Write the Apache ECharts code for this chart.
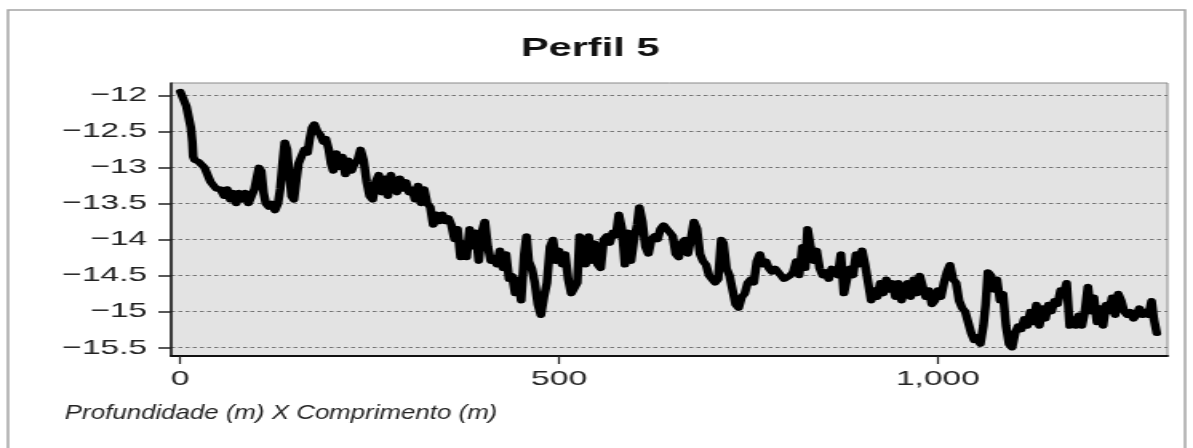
<!DOCTYPE html>
<html>
<head>
<meta charset="utf-8">
<title>Perfil 5</title>
<script src="https://cdn.jsdelivr.net/npm/echarts@6/dist/echarts.min.js"></script>
<style>
  html, body { margin: 0; padding: 0; background: #fff; overflow: hidden; }
  #wrap { width: 1193px; height: 448px; overflow: hidden; }
  /* the chart is laid out narrow and widened, giving its wide lettering */
  #chart { width: 746px; height: 448px; transform: scaleX(1.5992); transform-origin: 0 0; }
</style>
</head>
<body>
<div id="wrap"><div id="chart"></div></div>
<script>
// Distance along the profile (m)
const distance = [
  0, 4, 8, 11, 14, 16, 17, 19, 24, 28, 32, 36, 40, 44, 48, 53, 58, 62, 66, 70,
  74, 78, 82, 86, 90, 94, 98, 101, 104, 107, 110, 113, 117, 121, 125, 129, 132, 135, 138, 141,
  144, 147, 150, 153, 156, 160, 164, 168, 171, 174, 177, 181, 185, 189, 192, 196, 199, 202, 206, 210,
  214, 218, 222, 226, 230, 234, 238, 242, 246, 250, 254, 258, 262, 266, 270, 274, 278, 282, 286, 290,
  294, 298, 302, 306, 310, 314, 318, 322, 326, 330, 334, 338, 342, 346, 350, 354, 358, 362, 366, 370,
  374, 378, 382, 386, 390, 394, 398, 402, 406, 410, 414, 418, 422, 426, 430, 434, 438, 442, 446, 450,
  454, 457, 460, 464, 468, 472, 476, 480, 484, 488, 492, 496, 500, 504, 508, 512, 516, 520, 524, 527,
  531, 535, 539, 543, 547, 551, 555, 559, 563, 567, 571, 575, 579, 583, 587, 591, 595, 599, 603, 606,
  610, 614, 618, 622, 626, 630, 634, 638, 642, 646, 650, 654, 658, 662, 666, 670, 674, 678, 682, 686,
  690, 694, 698, 702, 706, 710, 714, 717, 721, 725, 729, 733, 737, 741, 745, 749, 753, 757, 761, 765,
  769, 773, 777, 781, 785, 789, 793, 797, 801, 805, 809, 813, 817, 821, 825, 828, 832, 836, 840, 844,
  848, 852, 856, 860, 864, 868, 872, 876, 880, 884, 888, 892, 896, 900, 904, 908, 912, 916, 920, 924,
  928, 932, 936, 940, 944, 948, 952, 956, 960, 964, 968, 972, 976, 980, 984, 988, 992, 996, 1000, 1004,
  1008, 1012, 1016, 1020, 1024, 1028, 1032, 1036, 1040, 1044, 1048, 1052, 1056, 1060, 1063, 1066, 1070, 1074, 1078, 1082,
  1086, 1090, 1094, 1098, 1102, 1106, 1110, 1114, 1118, 1122, 1126, 1130, 1134, 1138, 1142, 1146, 1150, 1154, 1158, 1162,
  1166, 1170, 1174, 1178, 1182, 1186, 1190, 1194, 1198, 1202, 1206, 1210, 1214, 1218, 1222, 1226, 1230, 1234, 1238, 1242,
  1246, 1250, 1254, 1258, 1262, 1266, 1270, 1274, 1278, 1282, 1285, 1289
];

// Depth (m) at each distance
const depth = [
  -11.95, -12.05, -12.15, -12.3, -12.45, -12.65, -12.85, -12.9, -12.92, -12.9, -13.0, -13.1, -13.2, -13.25, -13.3, -13.3, -13.4, -13.3, -13.45, -13.35,
  -13.5, -13.35, -13.45, -13.35, -13.5, -13.4, -13.3, -13.15, -13.0, -13.05, -13.35, -13.5, -13.55, -13.5, -13.6, -13.5, -13.3, -12.95, -12.65, -12.75,
  -13.1, -13.4, -13.45, -13.2, -12.95, -12.85, -12.75, -12.8, -12.6, -12.45, -12.4, -12.5, -12.55, -12.65, -12.6, -12.75, -12.95, -13.05, -12.8, -13.0,
  -12.85, -13.1, -12.9, -13.05, -12.95, -12.9, -12.75, -12.9, -13.2, -13.4, -13.45, -13.2, -13.1, -13.35, -13.15, -13.4, -13.1, -13.25, -13.35, -13.15,
  -13.3, -13.2, -13.35, -13.3, -13.45, -13.25, -13.5, -13.3, -13.5, -13.55, -13.8, -13.65, -13.75, -13.65, -13.75, -13.7, -13.8, -14.0, -13.85, -14.25,
  -14.05, -14.25, -13.85, -14.1, -13.9, -14.3, -13.9, -13.75, -14.1, -14.3, -14.25, -14.35, -14.15, -14.4, -14.2, -14.55, -14.5, -14.75, -14.55, -14.85,
  -14.2, -13.95, -14.3, -14.4, -14.6, -14.9, -15.05, -14.8, -14.6, -14.1, -14.0, -14.3, -14.15, -14.35, -14.2, -14.55, -14.75, -14.75, -14.6, -13.95,
  -14.05, -14.35, -13.95, -14.3, -14.05, -14.35, -14.4, -14.0, -13.95, -14.05, -13.9, -13.95, -13.65, -13.85, -14.35, -13.9, -14.3, -14.0, -13.8, -13.55,
  -13.75, -14.1, -14.2, -14.0, -13.95, -14.0, -13.85, -13.8, -13.85, -13.9, -13.95, -14.2, -14.25, -14.05, -14.0, -14.2, -14.0, -13.75, -13.85, -14.2,
  -14.3, -14.35, -14.5, -14.55, -14.6, -14.55, -14.0, -14.05, -14.4, -14.5, -14.5, -14.9, -14.95, -14.8, -14.75, -14.6, -14.55, -14.6, -14.3, -14.2,
  -14.35, -14.3, -14.4, -14.45, -14.4, -14.45, -14.5, -14.55, -14.55, -14.5, -14.45, -14.3, -14.5, -14.1, -14.4, -13.85, -14.1, -14.3, -14.15, -14.4,
  -14.5, -14.45, -14.55, -14.4, -14.4, -14.5, -14.2, -14.75, -14.55, -14.4, -14.5, -14.2, -14.35, -14.15, -14.35, -14.6, -14.85, -14.7, -14.8, -14.6,
  -14.75, -14.55, -14.7, -14.6, -14.8, -14.6, -14.85, -14.7, -14.6, -14.8, -14.55, -14.75, -14.5, -14.65, -14.8, -14.7, -14.9, -14.85, -14.7, -14.8,
  -14.6, -14.45, -14.35, -14.55, -14.6, -14.85, -14.95, -15.0, -15.15, -15.3, -15.4, -15.35, -15.45, -15.2, -14.9, -14.45, -14.5, -14.7, -14.55, -14.85,
  -14.75, -15.2, -15.45, -15.5, -15.3, -15.2, -15.25, -15.1, -15.2, -15.0, -15.15, -14.9, -15.2, -14.95, -15.1, -14.9, -15.0, -14.85, -14.9, -14.7,
  -14.75, -14.6, -15.2, -15.1, -15.2, -15.05, -15.2, -15.0, -14.65, -15.0, -14.8, -15.15, -14.95, -15.2, -14.9, -15.0, -14.8, -15.05, -14.75, -14.85,
  -15.0, -15.05, -15.0, -15.1, -15.05, -14.95, -15.05, -15.0, -15.05, -14.85, -15.1, -15.3
];

// Tick values shown on each axis
const xTicks = [0, 500, 1000];
const yTicks = [-15.5, -15, -14.5, -14, -13.5, -13, -12.5, -12];

const titleText = 'Perfil 5';
const axisCaption = 'Profundidade (m) X Comprimento (m)';

const profile = distance.map((d, i) => [d, depth[i]]);

const FONT = '"Liberation Sans", Arial, sans-serif';

const chart = echarts.init(document.getElementById('chart'), null, { renderer: 'canvas' });

chart.setOption({
  animation: false,
  backgroundColor: '#ffffff',
  title: {
    text: titleText,
    left: 369,
    textAlign: 'center',
    top: 36,
    padding: 0,
    textStyle: { fontFamily: FONT, fontWeight: 'bold', fontSize: 26, color: '#111' }
  },
  graphic: [
    {
      type: 'rect',
      silent: true,
      z: -1,
      shape: { x: 5, y: 10, width: 736, height: 450 },
      style: { fill: 'none', stroke: '#a4a4a4', lineWidth: 1.5 }
    },
    {
      // caption under the x axis, set in a narrower cut than the tick labels
      type: 'text',
      silent: true,
      x: 40.5,
      y: 403,
      scaleX: 0.77,
      style: {
        text: axisCaption,
        fontFamily: FONT,
        fontStyle: 'italic',
        fontSize: 21,
        fill: '#222',
        verticalAlign: 'top'
      }
    }
  ],
  grid: {
    left: 107,
    right: 16,
    top: 83,
    bottom: 92,
    show: true,
    backgroundColor: '#e3e3e3',
    borderColor: '#8a8a8a',
    borderWidth: 1
  },
  xAxis: {
    type: 'value',
    min: -12,
    max: 1303,
    axisLine: { show: true, onZero: false, lineStyle: { color: '#111', width: 2 } },
    axisTick: { show: true, customValues: xTicks, length: 8, lineStyle: { color: '#222', width: 1.2 } },
    axisLabel: {
      customValues: xTicks,
      margin: 13,
      fontFamily: FONT,
      fontSize: 21,
      color: '#222',
      formatter: v => Number(v).toLocaleString('en-US')
    },
    splitLine: { show: false }
  },
  yAxis: {
    type: 'value',
    min: -15.615,
    max: -11.83,
    axisLine: { show: true, onZero: false, lineStyle: { color: '#111', width: 1.5 } },
    axisTick: { show: true, customValues: yTicks, length: 8, lineStyle: { color: '#222', width: 1.5 } },
    axisLabel: {
      customValues: yTicks,
      margin: 15,
      fontFamily: FONT,
      fontSize: 21,
      color: '#222',
      formatter: v => (v < 0 ? '\u2212' : '') + String(Math.abs(Math.round(v * 10) / 10))
    },
    splitLine: { show: true, lineStyle: { color: '#757575', width: 1, type: [2.5, 2] } }
  },
  series: [
    {
      type: 'line',
      data: profile,
      showSymbol: false,
      symbol: 'none',
      lineStyle: { color: '#000', width: 5.5, join: 'round', cap: 'round' },
      clip: true
    }
  ]
});
</script>
</body>
</html>
